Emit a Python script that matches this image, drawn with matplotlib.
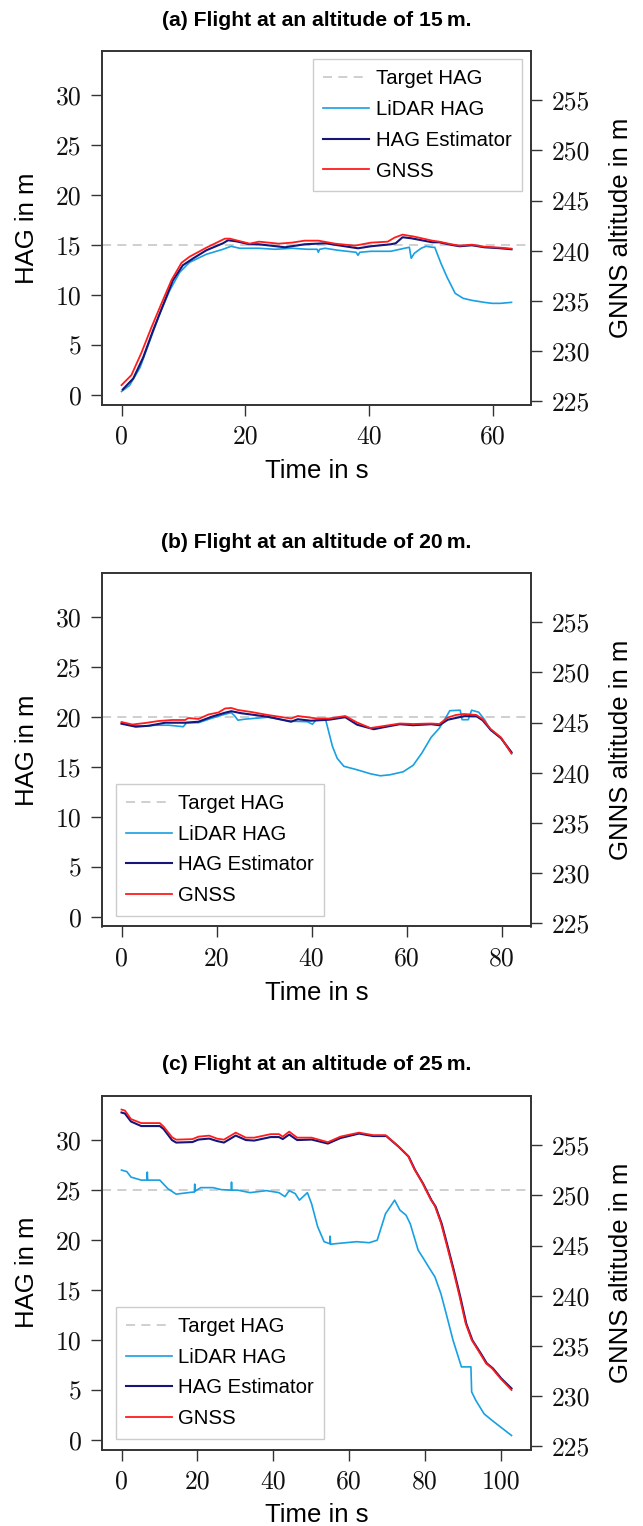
import numpy as np
import matplotlib.pyplot as plt

plt.rcParams['font.family'] = ['Liberation Sans', 'DejaVu Sans']

# (a) 15 m flight
a_lidar_t = [0, 1.3, 3.0, 4.6, 6.2, 7.8, 9.4, 11.0, 13.7, 16.4, 17.7, 19.1, 20.7, 22.2, 24.8, 27.5, 30.1,
             31.6, 31.8, 32.0, 32.9, 35.0, 37.9, 38.2, 38.5, 40.3, 43.5, 45.7, 46.5, 46.8, 47.3, 48.4, 49.2,
             50.2, 50.6, 51.6, 52.6, 53.9, 55.2, 56.6, 58.6, 59.9, 61.2, 63.0]
a_lidar = [0.4, 1.0, 2.8, 5.5, 8.2, 10.5, 12.3, 13.3, 14.1, 14.6, 14.9, 14.7, 14.7, 14.7, 14.6, 14.7, 14.6,
           14.6, 14.3, 14.6, 14.7, 14.5, 14.3, 14.0, 14.3, 14.4, 14.4, 14.7, 14.8, 13.7, 14.2, 14.7, 14.9,
           14.8, 14.8, 13.2, 11.8, 10.2, 9.7, 9.5, 9.3, 9.2, 9.2, 9.3]
a_est_t = [0.2, 1.9, 3.5, 5.1, 6.7, 8.3, 9.9, 11.6, 13.7, 16.4, 17.2, 18.5, 20.7, 22.2, 26.4, 29.6, 32.9,
           35.0, 38.2, 40.3, 43.5, 44.3, 45.4, 46.8, 50.2, 51.3, 53.2, 54.6, 56.6, 58.6, 61.2, 63.0]
a_est = [0.6, 1.7, 3.8, 6.5, 9.0, 11.5, 13.0, 13.7, 14.5, 15.2, 15.5, 15.4, 15.1, 15.1, 14.8, 15.1, 15.2,
         15.0, 14.7, 14.9, 15.1, 15.2, 15.8, 15.7, 15.3, 15.3, 15.05, 14.9, 15.0, 14.8, 14.7, 14.6]
a_gnss_t = [0, 1.6, 3.2, 4.8, 6.5, 8.1, 9.7, 11.0, 13.7, 16.7, 17.5, 20.7, 22.2, 25.4, 27.5, 29.6, 31.8,
            34.5, 37.7, 40.3, 43.0, 44.1, 45.4, 47.3, 50.2, 51.3, 53.2, 54.6, 56.6, 58.6, 61.2, 63.0]
a_gnss = [226.6, 227.6, 229.8, 232.3, 234.8, 237.1, 238.8, 239.4, 240.3, 241.2, 241.2, 240.7, 240.9, 240.7,
          240.8, 241.0, 241.0, 240.7, 240.5, 240.8, 240.9, 241.3, 241.6, 241.4, 241.0, 240.9, 240.65, 240.5,
          240.6, 240.4, 240.3, 240.2]

# (b) 20 m flight
b_lidar_t = [0, 2.0, 4.5, 7.1, 9.9, 12.0, 13.0, 13.7, 16.2, 19.0, 21.8, 23.1, 23.8, 24.5, 25.9, 30.8, 35.7,
             39.1, 40.2, 40.9, 43.0, 43.7, 44.4, 45.4, 46.8, 49.6, 52.4, 54.5, 56.5, 59.3, 61.4, 63.2, 65.2,
             66.9, 68.2, 69.1, 71.3, 71.7, 73.0, 73.7, 75.2, 76.5, 77.7, 79.9, 82.1]
b_lidar = [19.4, 19.2, 19.1, 19.2, 19.2, 19.1, 19.05, 19.45, 19.45, 19.9, 20.3, 20.45, 20.15, 19.7, 19.8,
           20.0, 19.6, 19.55, 19.3, 19.7, 19.7, 18.4, 17.1, 15.9, 15.1, 14.75, 14.35, 14.15, 14.25, 14.55,
           15.2, 16.4, 18.0, 18.9, 19.9, 20.65, 20.7, 19.75, 19.75, 20.7, 20.5, 19.7, 18.7, 17.9, 16.4]
b_est_t = [0, 3.0, 5.8, 9.2, 13.4, 16.2, 19.0, 21.8, 23.1, 25.2, 30.8, 35.7, 37.1, 39.8, 43.7, 47.1, 49.6,
           53.1, 55.2, 58.6, 61.4, 65.2, 66.9, 68.7, 72.1, 74.7, 76.0, 77.7, 79.9, 82.1]
b_est = [19.35, 19.05, 19.15, 19.45, 19.45, 19.55, 20.05, 20.45, 20.6, 20.4, 20.05, 19.55, 19.8, 19.65,
         19.75, 20.0, 19.25, 18.8, 19.0, 19.3, 19.2, 19.3, 19.2, 19.75, 20.1, 20.1, 19.7, 18.75, 17.9, 16.5]
b_gnss_t = [0, 2.3, 5.0, 7.8, 10.6, 13.4, 14.1, 16.2, 18.3, 20.4, 21.8, 23.1, 24.5, 27.3, 30.8, 32.9, 35.7,
            37.1, 41.2, 43.7, 47.1, 49.6, 52.4, 55.2, 58.6, 61.4, 65.2, 66.9, 68.7, 70.4, 72.1, 74.7, 76.0,
            77.7, 79.9, 82.1]
b_gnss = [245.05, 244.8, 244.95, 245.15, 245.25, 245.25, 245.45, 245.35, 245.8, 246.0, 246.4, 246.45,
          246.25, 246.05, 245.75, 245.6, 245.4, 245.65, 245.4, 245.4, 245.65, 245.0, 244.45, 244.65, 244.9,
          244.85, 244.9, 244.85, 245.5, 245.75, 245.85, 245.75, 245.35, 244.35, 243.5, 241.9]

# (c) 25 m flight
c_lidar_t = [0, 1.4, 2.5, 5.2, 6.7, 6.8, 6.9, 10.1, 12.2, 14.4, 18.7, 19.2, 19.3, 19.4, 20.9, 24.1, 26.3,
             28.9, 29.0, 29.1, 30.6, 33.9, 38.2, 41.5, 43.1, 44.2, 45.8, 46.9, 49.0, 50.1, 51.7, 53.4, 54.9,
             55.0, 55.1, 57.7, 62.0, 65.3, 67.4, 69.6, 72.0, 73.4, 75.0, 76.1, 78.2, 79.3, 81.5, 82.6, 84.2,
             85.8, 87.4, 89.6, 92.1, 92.3, 93.4, 95.6, 97.7, 99.9, 102.8]
c_lidar = [27.0, 26.85, 26.3, 26.0, 26.0, 26.8, 26.0, 26.0, 25.15, 24.6, 24.8, 24.8, 25.6, 24.9, 25.25,
           25.25, 25.05, 25.0, 25.8, 25.0, 25.0, 24.75, 24.95, 24.75, 24.35, 24.95, 24.65, 24.0, 24.75, 23.65,
           21.35, 19.85, 19.65, 20.4, 19.6, 19.7, 19.85, 19.75, 20.0, 22.65, 24.0, 23.0, 22.5, 21.65, 19.0,
           18.35, 17.0, 16.35, 14.65, 12.35, 10.0, 7.35, 7.35, 4.85, 4.0, 2.65, 2.0, 1.35, 0.5]
c_est_t = [0, 0.9, 2.5, 5.2, 10.1, 11.1, 13.3, 14.4, 18.7, 20.3, 23.1, 25.2, 27.0, 30.1, 32.8, 35.0, 39.3,
           41.5, 42.5, 44.2, 46.3, 50.1, 54.4, 57.7, 62.6, 66.3, 69.8, 73.0, 75.7, 77.4, 79.5, 81.7, 82.8,
           84.4, 86.0, 87.6, 89.3, 90.9, 92.5, 94.7, 96.3, 97.9, 100.1, 102.8]
c_est = [32.75, 32.65, 31.85, 31.4, 31.4, 31.1, 30.0, 29.75, 29.8, 30.05, 30.15, 29.9, 29.75, 30.45, 30.0,
         29.95, 30.3, 30.3, 30.1, 30.55, 30.0, 30.05, 29.65, 30.2, 30.65, 30.4, 30.4, 29.35, 28.35, 27.0,
         25.65, 24.0, 23.35, 21.65, 19.35, 17.0, 14.35, 11.65, 10.0, 8.7, 7.7, 7.2, 6.2, 5.2]
c_gnss_t = [0, 0.9, 2.5, 5.2, 10.1, 11.1, 13.3, 14.4, 18.7, 20.3, 23.1, 25.2, 27.0, 30.1, 32.8, 35.0, 39.3,
            41.5, 42.5, 44.2, 46.3, 50.1, 54.4, 57.7, 62.6, 66.3, 69.6, 72.8, 75.5, 77.2, 79.3, 81.5, 82.6,
            84.2, 85.8, 87.4, 89.1, 90.7, 92.3, 94.5, 96.1, 97.7, 99.9, 102.8]
c_gnss = [258.55, 258.45, 257.6, 257.2, 257.2, 256.85, 255.8, 255.55, 255.6, 255.85, 255.95, 255.65,
          255.55, 256.25, 255.75, 255.75, 256.1, 256.1, 255.85, 256.35, 255.75, 255.75, 255.3, 255.85,
          256.25, 256.0, 256.0, 254.95, 253.95, 252.6, 251.25, 249.6, 248.95, 247.25, 244.95, 242.6, 239.95,
          237.25, 235.6, 234.25, 233.25, 232.75, 231.75, 230.6]

titles = ['(a) Flight at an altitude of 15\u2009m.', '(b) Flight at an altitude of 20\u2009m.',
          '(c) Flight at an altitude of 25\u2009m.']
targets = [15, 20, 25]
labels = ['Target HAG', 'LiDAR HAG', 'HAG Estimator', 'GNSS']
hag_ticks = [0, 5, 10, 15, 20, 25, 30]
alt_ticks = [225, 230, 235, 240, 245, 250, 255]
time_ticks = [[0, 20, 40, 60], [0, 20, 40, 60, 80], [0, 20, 40, 60, 80, 100]]

C_LIDAR = '#18a0e2'
C_EST = '#15157a'
C_GNSS = '#ff1c1c'
C_SPINE = '#333333'

W, H = 643, 1526
fig = plt.figure(figsize=(W / 100, H / 100), dpi=100)

left, right = 102, 531
tops = [51, 573, 1096]
ax_h = 353.5
title_y = [20, 542, 1065]
legend_cfg = [('upper right', (0.978, 0.978)), ('lower left', (0.032, 0.031)), ('lower left', (0.032, 0.031))]

series = [
    (a_lidar_t, a_lidar, a_est_t, a_est, a_gnss_t, a_gnss),
    (b_lidar_t, b_lidar, b_est_t, b_est, b_gnss_t, b_gnss),
    (c_lidar_t, c_lidar, c_est_t, c_est, c_gnss_t, c_gnss),
]

for i, (lt, lv, et, ev, gt, gv) in enumerate(series):
    top = tops[i]
    bottom = top + ax_h
    ax = fig.add_axes([left / W, 1 - bottom / H, (right - left) / W, ax_h / H])
    ax2 = ax.twinx()

    h0 = ax.axhline(targets[i], color='#cccccc', lw=1.3, ls=(0, (5, 3.5)), zorder=1)
    h1, = ax.plot(lt, lv, color=C_LIDAR, lw=1.2, zorder=2)
    h2, = ax.plot(et, ev, color=C_EST, lw=1.5, zorder=3)
    h3, = ax2.plot(gt, gv, color=C_GNSS, lw=1.3, zorder=4)

    tmax = max(lt[-1], et[-1], gt[-1])
    ax.set_xlim(-0.05 * tmax, 1.05 * tmax)
    ax.set_ylim(-0.9, 34.4)
    ax2.set_ylim(224.67, 259.9)

    ax.set_xticks(time_ticks[i], [str(v) for v in time_ticks[i]], fontfamily='cmr10', fontsize=18.5)
    ax.set_yticks(hag_ticks, [str(v) for v in hag_ticks], fontfamily='cmr10', fontsize=18.5)
    ax2.set_yticks(alt_ticks, [str(v) for v in alt_ticks], fontfamily='cmr10', fontsize=18.5)
    ax.tick_params(axis='both', direction='out', length=7.7, width=1, pad=7, colors=C_SPINE, labelcolor='#111111')
    ax2.tick_params(axis='y', direction='out', length=7.7, width=1, pad=7, colors=C_SPINE, labelcolor='#111111')
    for a in (ax, ax2):
        for s in a.spines.values():
            s.set_color(C_SPINE)
            s.set_linewidth(1.2)

    cx = (left + right) / 2 / W
    cy = 1 - (top + ax_h / 2) / H
    fig.text(cx, 1 - title_y[i] / H, titles[i], ha='center', va='center', fontsize=15.2, fontweight='bold')
    fig.text(27 / W, cy, 'HAG in m', rotation=90, ha='center', va='center', fontsize=18.5)
    fig.text(621 / W, cy, 'GNNS altitude in m', rotation=90, ha='center', va='center', fontsize=18.5)
    fig.text(cx, 1 - (bottom + 66) / H, 'Time in s', ha='center', va='center', fontsize=18.5)

    loc, anchor = legend_cfg[i]
    leg = ax2.legend([h0, h1, h2, h3], labels, loc=loc, bbox_to_anchor=anchor, fontsize=14.7,
                     frameon=True, fancybox=False, framealpha=1, edgecolor='#cccccc',
                     handlelength=2.24, handletextpad=0.33, labelspacing=0.58, borderpad=0.5,
                     borderaxespad=0)
    leg.get_frame().set_linewidth(1.0)

fig.savefig('out.png', dpi=100)
